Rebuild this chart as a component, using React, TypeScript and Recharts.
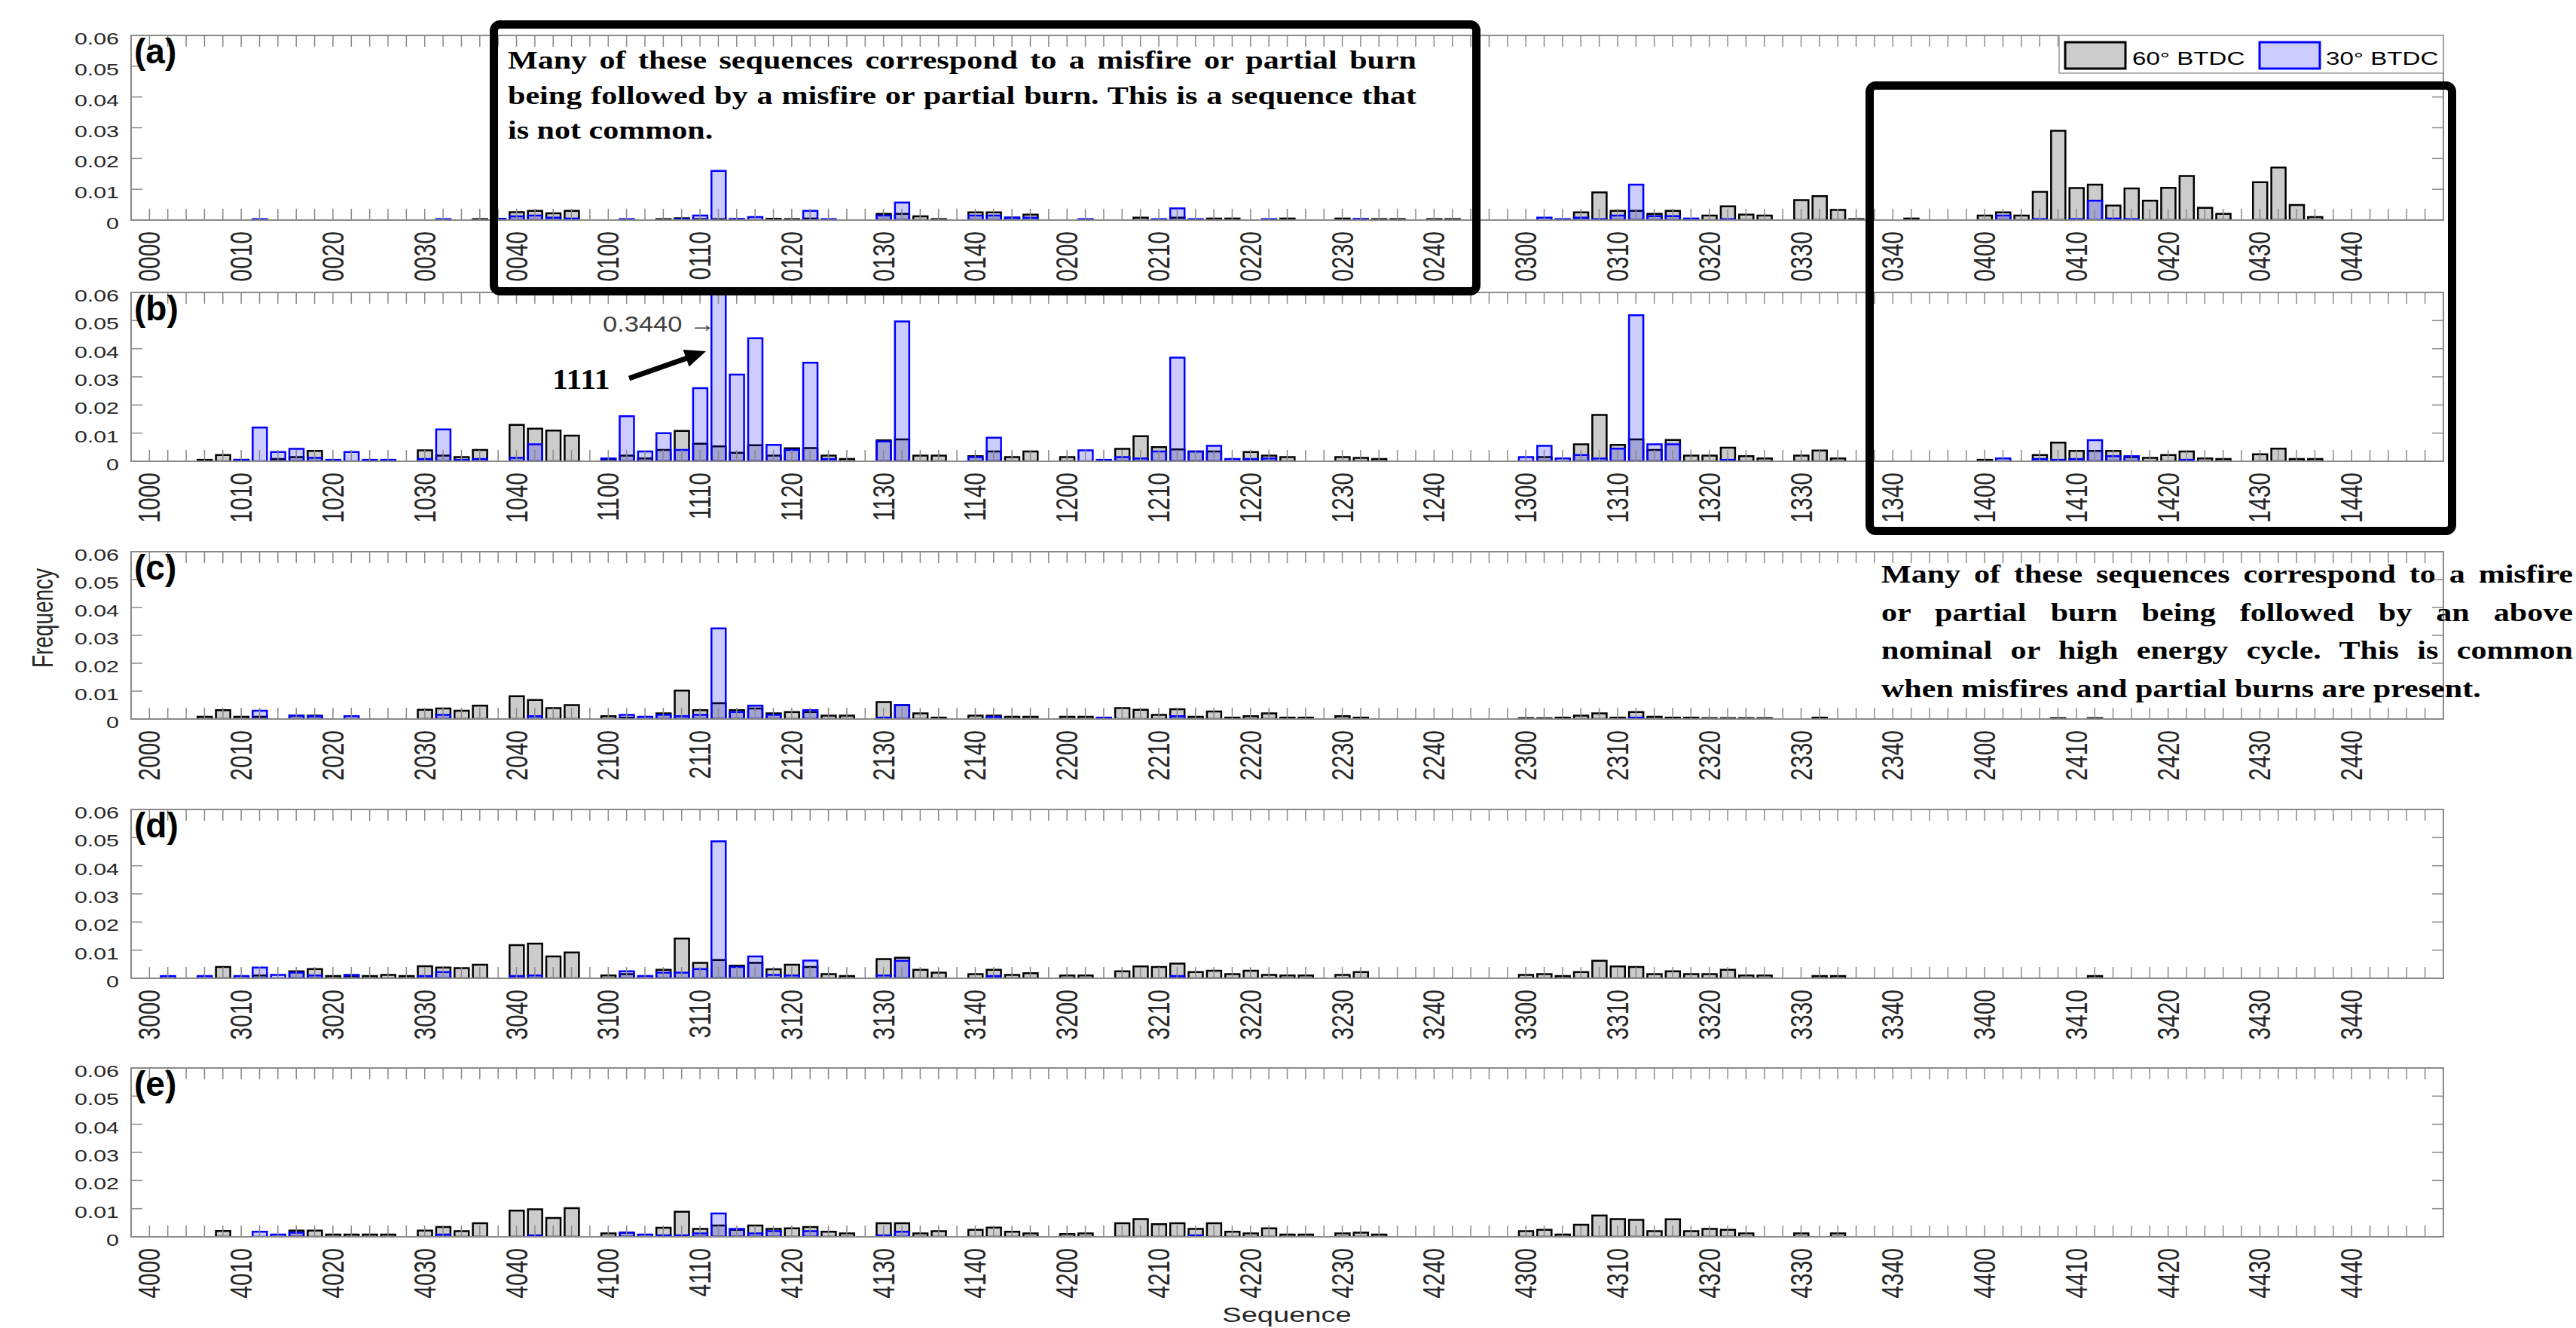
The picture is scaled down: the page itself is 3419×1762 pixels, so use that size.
import { BarChart, Bar, XAxis, YAxis } from "recharts";

/* ── figure geometry ── */
const W = 3419;
const H = 1762;
const PLOT_L = 174;
const PLOT_R = 3243;
const SX = 1.38; // exported figure text is stretched horizontally
const AXIS_GRAY = "#8a8a8a";
const TEXT_DARK = "#262626";

/* ── data ── */
const DIGITS = ["0", "1", "2", "3", "4"];
const Y_TICKS = [0, 0.01, 0.02, 0.03, 0.04, 0.05, 0.06];
const Y_TICK_LABELS = ["0", "0.01", "0.02", "0.03", "0.04", "0.05", "0.06"];
const SERIES_NAMES = ["60° BTDC", "30° BTDC"];

// each row = second digit 0..4, 25 values in order of third/fourth digit
const A_60 = [
  0, 0, 0, 0, 0, 0, 0, 0, 0, 0, 0, 0, 0, 0, 0, 0, 0, 0, 0.0003, 0.0004, 0.0026, 0.003, 0.0022, 0.003, 0,
  0, 0, 0, 0.0003, 0.0006, 0.0003, 0.0003, 0.0003, 0, 0.0004, 0.0003, 0.0005, 0, 0, 0, 0.002, 0.002, 0.0012, 0.0003, 0, 0.0025, 0.0025, 0.0008, 0.0018, 0,
  0, 0, 0, 0, 0.0008, 0, 0.0008, 0, 0.0005, 0.0005, 0, 0, 0.0005, 0, 0, 0.0005, 0.0003, 0.0003, 0.0003, 0, 0.0003, 0.0003, 0, 0, 0,
  0, 0, 0, 0.0025, 0.009, 0.003, 0.003, 0.002, 0.003, 0, 0.0015, 0.0045, 0.0018, 0.0015, 0, 0.0065, 0.0078, 0.0033, 0.0003, 0, 0, 0.0005, 0, 0, 0,
  0.0015, 0.0025, 0.0015, 0.0092, 0.029, 0.0104, 0.0115, 0.0047, 0.0103, 0.0063, 0.0105, 0.0143, 0.004, 0.002, 0, 0.0123, 0.0171, 0.0049, 0.001, 0, 0, 0, 0, 0, 0,
];
const A_30 = [
  0, 0, 0, 0, 0, 0, 0.0003, 0, 0, 0, 0, 0, 0, 0, 0, 0, 0.0003, 0, 0, 0.0003, 0.0012, 0.0015, 0.0008, 0.0005, 0,
  0, 0.0003, 0, 0, 0.0003, 0.0015, 0.016, 0.0003, 0.001, 0, 0, 0.003, 0.0003, 0, 0, 0.0015, 0.0057, 0, 0, 0, 0.0015, 0.0015, 0.0008, 0.0008, 0,
  0, 0.0003, 0, 0, 0, 0.0003, 0.0038, 0.0003, 0, 0, 0, 0.0003, 0, 0, 0, 0, 0.0003, 0, 0, 0, 0, 0, 0, 0, 0,
  0, 0.0008, 0.0003, 0.0008, 0.0003, 0.0015, 0.0115, 0.0013, 0.0013, 0.0005, 0, 0.0003, 0, 0, 0, 0, 0, 0, 0, 0, 0, 0, 0, 0, 0,
  0, 0.0015, 0, 0.0003, 0, 0.0003, 0.0063, 0.0005, 0.0003, 0, 0, 0, 0, 0, 0, 0, 0, 0, 0, 0, 0, 0, 0, 0, 0,
];

const B_60 = [
  0, 0, 0, 0.0005, 0.0022, 0.0005, 0, 0.0008, 0.0015, 0.0037, 0, 0, 0, 0, 0, 0.0039, 0.002, 0.0015, 0.004, 0, 0.0129, 0.0116, 0.0109, 0.0091, 0,
  0.0008, 0.002, 0.001, 0.004, 0.0108, 0.0062, 0.0053, 0.003, 0.0057, 0.002, 0.0046, 0.0047, 0.002, 0.0008, 0, 0.0074, 0.0078, 0.002, 0.002, 0, 0.0018, 0.0035, 0.0015, 0.0035, 0,
  0.0015, 0, 0, 0.0044, 0.0089, 0.005, 0.0042, 0.0035, 0.0035, 0, 0.0033, 0.002, 0.0015, 0, 0, 0.0015, 0.0012, 0.0008, 0, 0, 0, 0, 0, 0, 0,
  0, 0.0015, 0, 0.006, 0.0165, 0.0058, 0.0078, 0.004, 0.0076, 0.002, 0.002, 0.0048, 0.0018, 0.001, 0, 0.002, 0.0038, 0.001, 0, 0, 0, 0, 0, 0, 0,
  0.0005, 0, 0, 0.0022, 0.0066, 0.0037, 0.0037, 0.0037, 0.0015, 0.0012, 0.0022, 0.0035, 0.001, 0.0008, 0, 0.0025, 0.0045, 0.0008, 0.0008, 0, 0, 0, 0, 0, 0,
];
const B_30 = [
  0, 0, 0, 0, 0, 0.0005, 0.012, 0.0033, 0.0044, 0.0012, 0.0005, 0.0033, 0.0005, 0.0005, 0, 0.0008, 0.0113, 0.0005, 0.0008, 0, 0.0012, 0.006, 0, 0, 0,
  0.001, 0.016, 0.0035, 0.01, 0.004, 0.026, 0.344, 0.0308, 0.0437, 0.0058, 0.004, 0.035, 0.0008, 0, 0, 0.007, 0.0497, 0, 0, 0, 0.0015, 0.0084, 0, 0, 0,
  0, 0.0039, 0.0005, 0.0015, 0.001, 0.0035, 0.0368, 0.0035, 0.0055, 0.0008, 0.0008, 0.001, 0, 0, 0, 0, 0, 0, 0, 0, 0, 0, 0, 0, 0,
  0.0015, 0.0055, 0.001, 0.0022, 0.001, 0.0045, 0.0519, 0.006, 0.006, 0, 0, 0.0005, 0, 0, 0, 0, 0, 0, 0, 0, 0, 0, 0, 0, 0,
  0, 0.001, 0, 0.0008, 0.0005, 0.0008, 0.0075, 0.0018, 0.0018, 0, 0, 0.0005, 0, 0, 0, 0, 0, 0, 0, 0, 0, 0, 0, 0, 0,
];

const C_60 = [
  0, 0, 0, 0.0008, 0.0032, 0.0008, 0.0008, 0, 0.0012, 0.0012, 0, 0, 0, 0, 0, 0.0033, 0.0038, 0.003, 0.0048, 0, 0.0082, 0.0068, 0.0039, 0.005, 0,
  0.001, 0.0005, 0, 0.002, 0.0102, 0.0032, 0.0057, 0.0032, 0.0038, 0.002, 0.0025, 0.0025, 0.0012, 0.0012, 0, 0.0061, 0.005, 0.002, 0.0005, 0, 0.0012, 0.0012, 0.0008, 0.0008, 0,
  0.0008, 0.0008, 0, 0.0039, 0.0033, 0.0015, 0.0035, 0.0008, 0.0027, 0.0005, 0.001, 0.002, 0.0005, 0.0005, 0, 0.001, 0.0005, 0, 0, 0, 0, 0, 0, 0, 0,
  0.0003, 0.0003, 0.0005, 0.0012, 0.002, 0.0005, 0.0025, 0.0008, 0.0005, 0.0005, 0.0003, 0.0003, 0.0003, 0.0003, 0, 0, 0.0005, 0, 0, 0, 0, 0, 0, 0, 0,
  0, 0, 0, 0, 0.0003, 0, 0.0003, 0, 0, 0, 0, 0, 0, 0, 0, 0, 0, 0, 0, 0, 0, 0, 0, 0, 0,
];
const C_30 = [
  0, 0, 0, 0, 0, 0, 0.003, 0, 0.0012, 0.001, 0, 0.001, 0, 0, 0, 0, 0.0015, 0, 0, 0, 0, 0.001, 0, 0, 0,
  0, 0.0015, 0.0008, 0.0015, 0.001, 0.0015, 0.0325, 0.0025, 0.0048, 0.0015, 0, 0.0032, 0, 0, 0, 0.0005, 0.005, 0, 0, 0, 0, 0.0008, 0, 0, 0,
  0, 0, 0.0005, 0, 0, 0, 0.001, 0, 0, 0, 0, 0, 0, 0, 0, 0, 0, 0, 0, 0, 0, 0, 0, 0, 0,
  0, 0, 0, 0, 0, 0, 0.0005, 0, 0, 0, 0, 0, 0, 0, 0, 0, 0, 0, 0, 0, 0, 0, 0, 0, 0,
  0, 0, 0, 0, 0, 0, 0, 0, 0, 0, 0, 0, 0, 0, 0, 0, 0, 0, 0, 0, 0, 0, 0, 0, 0,
];

const D_60 = [
  0, 0, 0, 0, 0.004, 0, 0.001, 0, 0.0025, 0.0033, 0.0008, 0.0008, 0.0008, 0.0012, 0.0008, 0.0043, 0.0038, 0.0036, 0.0048, 0, 0.0118, 0.0123, 0.0078, 0.0092, 0,
  0.001, 0.0015, 0, 0.003, 0.0141, 0.0055, 0.0065, 0.0045, 0.0055, 0.0032, 0.0048, 0.004, 0.0015, 0.0008, 0, 0.0068, 0.0073, 0.003, 0.002, 0, 0.0015, 0.003, 0.0012, 0.0018, 0,
  0.001, 0.001, 0, 0.0025, 0.0042, 0.004, 0.0052, 0.0022, 0.0027, 0.0015, 0.0027, 0.0012, 0.001, 0.001, 0, 0.0012, 0.0022, 0, 0, 0, 0, 0, 0, 0, 0,
  0.0012, 0.0015, 0.0008, 0.0022, 0.0062, 0.0042, 0.004, 0.0015, 0.0025, 0.0015, 0.0015, 0.003, 0.001, 0.001, 0, 0, 0.0008, 0.0008, 0, 0, 0, 0, 0, 0, 0,
  0, 0, 0, 0, 0, 0, 0.0008, 0, 0, 0, 0, 0, 0, 0, 0, 0, 0, 0, 0, 0, 0, 0, 0, 0, 0,
];
const D_30 = [
  0, 0.0008, 0, 0.0008, 0, 0.0008, 0.0038, 0.0012, 0.002, 0.001, 0, 0.0012, 0, 0, 0, 0.0008, 0.0022, 0, 0, 0, 0.0008, 0.001, 0, 0, 0,
  0, 0.0025, 0.0008, 0.002, 0.002, 0.0033, 0.0487, 0.004, 0.0078, 0.0012, 0.001, 0.0063, 0, 0, 0, 0.001, 0.0062, 0, 0, 0, 0, 0.0008, 0, 0, 0,
  0, 0, 0, 0, 0, 0, 0.0008, 0, 0, 0, 0, 0, 0, 0, 0, 0, 0, 0, 0, 0, 0, 0, 0, 0, 0,
  0, 0, 0, 0, 0, 0, 0, 0, 0, 0, 0, 0, 0, 0, 0, 0, 0, 0, 0, 0, 0, 0, 0, 0, 0,
  0, 0, 0, 0, 0, 0, 0, 0, 0, 0, 0, 0, 0, 0, 0, 0, 0, 0, 0, 0, 0, 0, 0, 0, 0,
];

const E_60 = [
  0, 0, 0, 0, 0.0021, 0, 0, 0, 0.0022, 0.0022, 0.0008, 0.0008, 0.0008, 0.0008, 0, 0.0022, 0.0035, 0.002, 0.0048, 0, 0.0093, 0.0098, 0.0067, 0.0102, 0,
  0.0012, 0.0015, 0, 0.0032, 0.0089, 0.0028, 0.004, 0.0025, 0.004, 0.0028, 0.003, 0.0035, 0.0018, 0.0012, 0, 0.0048, 0.0048, 0.0012, 0.002, 0, 0.0025, 0.0033, 0.0018, 0.0012, 0,
  0.001, 0.0012, 0, 0.0048, 0.0063, 0.0045, 0.0048, 0.0028, 0.0048, 0.0018, 0.0012, 0.003, 0.0008, 0.0008, 0, 0.0012, 0.0015, 0.0008, 0, 0, 0, 0, 0, 0, 0,
  0.002, 0.0025, 0.0008, 0.0043, 0.0076, 0.0063, 0.006, 0.002, 0.0062, 0.002, 0.0028, 0.0025, 0.0012, 0, 0, 0.0012, 0, 0.0012, 0, 0, 0, 0, 0, 0, 0,
  0, 0, 0, 0, 0, 0, 0, 0, 0, 0, 0, 0, 0, 0, 0, 0, 0, 0, 0, 0, 0, 0, 0, 0, 0,
];
const E_30 = [
  0, 0, 0, 0, 0, 0, 0.0018, 0.0008, 0.0015, 0, 0, 0, 0, 0, 0, 0, 0.0008, 0, 0, 0, 0, 0.0005, 0, 0, 0,
  0, 0.0015, 0.0008, 0.0005, 0.0005, 0.0012, 0.0083, 0.0028, 0.0012, 0.002, 0, 0.002, 0, 0, 0, 0.0005, 0.0018, 0, 0, 0, 0, 0, 0, 0, 0,
  0, 0, 0, 0, 0, 0, 0, 0.0005, 0, 0, 0, 0, 0, 0, 0, 0, 0, 0, 0, 0, 0, 0, 0, 0, 0,
  0, 0, 0, 0, 0, 0, 0, 0, 0, 0, 0, 0, 0, 0, 0, 0, 0, 0, 0, 0, 0, 0, 0, 0, 0,
  0, 0, 0, 0, 0, 0, 0, 0, 0, 0, 0, 0, 0, 0, 0, 0, 0, 0, 0, 0, 0, 0, 0, 0, 0,
];

/* ── panels: label, first digit, plot top / bottom in page px ── */
const PANELS = [
  { label: "(a)", first: "0", s60: A_60, s30: A_30, top: 47, bottom: 292 },
  { label: "(b)", first: "1", s60: B_60, s30: B_30, top: 388, bottom: 612 },
  { label: "(c)", first: "2", s60: C_60, s30: C_30, top: 732, bottom: 954 },
  { label: "(d)", first: "3", s60: D_60, s30: D_30, top: 1074, bottom: 1298 },
  { label: "(e)", first: "4", s60: E_60, s30: E_30, top: 1417, bottom: 1641 },
];

function sequences(first: string) {
  const out: string[] = [];
  for (const a of DIGITS) for (const b of DIGITS) for (const c of DIGITS) out.push(first + a + b + c);
  return out;
}

/* ── ticks ── */
const MARGIN_TOP = 10;
const X_AXIS_H = 90;
const Y_AXIS_W = 100;
const PAD = (PLOT_R - PLOT_L) / 126 / 2;

function XTick(props: any) {
  const { x, payload, plotBottom } = props;
  const label: string = payload.value;
  const show = label.endsWith("0");
  return (
    <g>
      <line x1={x} x2={x} y1={plotBottom} y2={plotBottom - 15} stroke={AXIS_GRAY} strokeWidth={1.5} />
      <line x1={x} x2={x} y1={MARGIN_TOP} y2={MARGIN_TOP + 15} stroke={AXIS_GRAY} strokeWidth={1.5} />
      {show && (
        <text
          transform={`translate(${x + 14},${plotBottom + 15}) scale(${SX},1) rotate(-90)`}
          textAnchor="end"
          fontSize={30}
          fill={TEXT_DARK}
          fontFamily="Liberation Sans, Arial, sans-serif"
        >
          {label}
        </text>
      )}
    </g>
  );
}

function YTick(props: any) {
  const { y, payload } = props;
  const i = Y_TICKS.indexOf(payload.value);
  return (
    <g>
      <line x1={PLOT_L} x2={PLOT_L + 15} y1={y} y2={y} stroke={AXIS_GRAY} strokeWidth={1.5} />
      <line x1={PLOT_R} x2={PLOT_R - 15} y1={y} y2={y} stroke={AXIS_GRAY} strokeWidth={1.5} />
      <text
        transform={`translate(${PLOT_L - 16},${y + 12}) scale(${SX},1)`}
        textAnchor="end"
        fontSize={22}
        fill={TEXT_DARK}
        fontFamily="Liberation Sans, Arial, sans-serif"
      >
        {Y_TICK_LABELS[i]}
      </text>
    </g>
  );
}

function Panel({ p }: { p: (typeof PANELS)[number] }) {
  const plotH = p.bottom - p.top;
  const h = MARGIN_TOP + plotH + X_AXIS_H;
  const data = sequences(p.first).map((seq, i) => ({ seq, s60: p.s60[i], s30: p.s30[i] }));
  return (
    <div style={{ position: "absolute", left: 0, top: p.top - MARGIN_TOP, width: W, height: h }}>
      <BarChart
        width={W}
        height={h}
        data={data}
        margin={{ top: MARGIN_TOP, right: W - PLOT_R, bottom: 0, left: PLOT_L - Y_AXIS_W }}
      >
        <XAxis
          xAxisId="g"
          dataKey="seq"
          interval={0}
          height={X_AXIS_H}
          axisLine={false}
          tickLine={false}
          padding={{ left: PAD, right: PAD }}
          tick={<XTick plotBottom={MARGIN_TOP + plotH} />}
        />
        <XAxis xAxisId="b" dataKey="seq" hide padding={{ left: PAD, right: PAD }} />
        <YAxis
          type="number"
          domain={[0, 0.06]}
          ticks={Y_TICKS}
          allowDataOverflow
          width={Y_AXIS_W}
          axisLine={false}
          tickLine={false}
          tick={<YTick />}
        />
        <Bar
          xAxisId="g"
          dataKey="s60"
          name={SERIES_NAMES[0]}
          barSize={19}
          fill="#cccccc"
          stroke="#000000"
          strokeWidth={2.5}
          isAnimationActive={false}
        />
        <Bar
          xAxisId="b"
          dataKey="s30"
          name={SERIES_NAMES[1]}
          barSize={19}
          fill="rgba(0,0,255,0.2)"
          stroke="#0000ff"
          strokeWidth={2.5}
          isAnimationActive={false}
        />
      </BarChart>
    </div>
  );
}

const serif = "Liberation Serif, 'Times New Roman', serif";
const TSX = 1.237;

function Justified({ lines, left, top, width, lineHeight }: any) {
  return (
    <div
      style={{
        position: "absolute",
        left,
        top,
        width: width / TSX,
        transform: `scaleX(${TSX})`,
        transformOrigin: "0 0",
        fontFamily: serif,
        fontWeight: "bold",
        fontSize: 34,
        lineHeight: `${lineHeight}px`,
        color: "#000",
      }}
    >
      {lines.map((t: string, i: number) => (
        <div
          key={i}
          style={{
            whiteSpace: "nowrap",
            textAlign: i === lines.length - 1 ? "left" : "justify",
            textAlignLast: i === lines.length - 1 ? "left" : "justify",
          }}
        >
          {t}
        </div>
      ))}
    </div>
  );
}

const NOTE_1 = [
  "Many of these sequences correspond to a misfire or partial burn",
  "being followed by a misfire or partial burn. This is a sequence that",
  "is not common.",
];
const NOTE_2 = [
  "Many of these sequences correspond to a misfire",
  "or partial burn being followed by an above",
  "nominal or high energy cycle. This is common",
  "when misfires and partial burns are present.",
];

export default function App() {
  const sans = "Liberation Sans, Arial, sans-serif";
  return (
    <div
      style={{
        position: "absolute",
        left: 0,
        top: 0,
        width: W,
        height: H,
        overflow: "hidden",
        background: "#fff",
        fontFamily: sans,
      }}
    >
      {PANELS.map((p) => (
        <Panel key={p.label} p={p} />
      ))}

      <svg width={W} height={H} style={{ position: "absolute", left: 0, top: 0, pointerEvents: "none" }}>
        {PANELS.map((p) => (
          <g key={p.label}>
            <rect
              x={PLOT_L}
              y={p.top}
              width={PLOT_R - PLOT_L}
              height={p.bottom - p.top}
              fill="none"
              stroke={AXIS_GRAY}
              strokeWidth={2}
            />
            <text x={178} y={p.top + 37} fontSize={46} fontWeight="bold" fill="#000" fontFamily={sans}>
              {p.label}
            </text>
          </g>
        ))}

        {/* legend */}
        <rect x={2733} y={47} width={510} height={50} fill="#fff" stroke="#999" strokeWidth={1.5} />
        <rect x={2741} y={56} width={80} height={35} fill="#cccccc" stroke="#000" strokeWidth={3} />
        <text transform={`translate(2830,86) scale(${SX},1)`} fontSize={24} fill="#000" fontFamily={sans}>
          {SERIES_NAMES[0]}
        </text>
        <rect x={2999} y={56} width={80} height={35} fill="#ccccff" stroke="#0000ff" strokeWidth={3} />
        <text transform={`translate(3087,86) scale(${SX},1)`} fontSize={24} fill="#000" fontFamily={sans}>
          {SERIES_NAMES[1]}
        </text>

        {/* axis titles */}
        <text
          transform={`translate(70,820) scale(1.36,1) rotate(-90)`}
          textAnchor="middle"
          fontSize={28}
          fill={TEXT_DARK}
          fontFamily={sans}
        >
          Frequency
        </text>
        <text
          transform={`translate(1708,1754) scale(1.36,1)`}
          textAnchor="middle"
          fontSize={28}
          fill={TEXT_DARK}
          fontFamily={sans}
        >
          Sequence
        </text>

        {/* 1111 annotation */}
        <text transform={`translate(800,440) scale(1.15,1)`} fontSize={30} fill="#404040" fontFamily={sans}>
          0.3440 →
        </text>
        <text
          transform={`translate(733,516) scale(1.1,1)`}
          fontSize={38}
          fontWeight="bold"
          fill="#000"
          fontFamily={serif}
        >
          1111
        </text>
        <line x1={835} y1={502} x2={915} y2={474} stroke="#000" strokeWidth={7} />
        <polygon points="937,466 914.6,486.6 906.6,464" fill="#000" />

        {/* callout boxes */}
        <rect x={655.5} y={32.5} width={1304} height={354} rx={8} fill="none" stroke="#000" strokeWidth={11} />
        <rect x={2481.5} y={113.5} width={773} height={591} rx={8} fill="none" stroke="#000" strokeWidth={11} />
      </svg>

      <Justified lines={NOTE_1} left={674} top={57} width={1206} lineHeight={46.5} />
      <Justified lines={NOTE_2} left={2497} top={737} width={918} lineHeight={50.7} />
    </div>
  );
}
